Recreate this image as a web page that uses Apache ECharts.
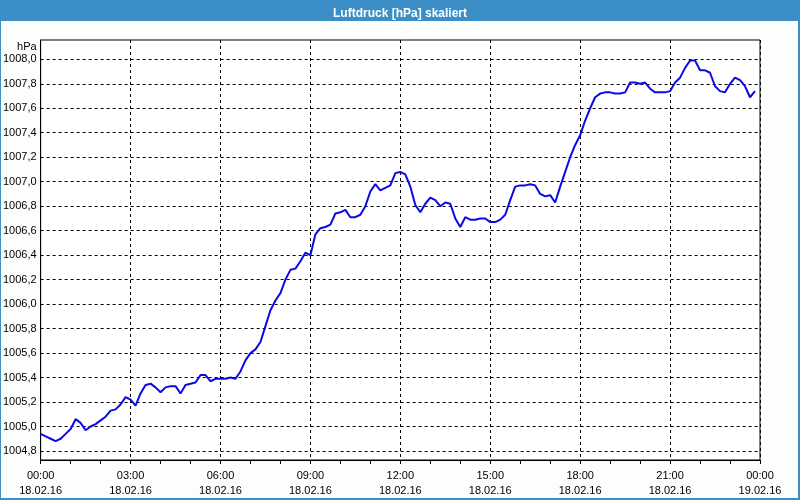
<!DOCTYPE html>
<html>
<head>
<meta charset="utf-8">
<script src="https://cdn.jsdelivr.net/npm/echarts@6/dist/echarts.min.js"></script>
<style>
html,body{margin:0;padding:0;background:#fcfefd;}
#chart{width:800px;height:500px;}
</style>
</head>
<body>
<div id="chart"></div>
<script>
// Air pressure readings every 10 minutes, 18.02.16 00:00 – 23:50
const startMinute = 0;
const stepMinutes = 10;
const pressure00to06 = [1004.94,1004.92,1004.90,1004.88,1004.90,1004.94,1004.98,1005.06,1005.03,1004.97,1005.00,1005.02,1005.05,1005.08,1005.13,1005.14,1005.18,1005.24,1005.22,1005.17,1005.27,1005.34,1005.35,1005.32,1005.28,1005.32,1005.33,1005.33,1005.27,1005.34,1005.35,1005.36,1005.42,1005.42,1005.37,1005.39];
const pressure06to12 = [1005.39,1005.39,1005.40,1005.39,1005.45,1005.54,1005.60,1005.63,1005.69,1005.82,1005.95,1006.03,1006.09,1006.20,1006.28,1006.29,1006.35,1006.42,1006.40,1006.57,1006.62,1006.63,1006.65,1006.74,1006.75,1006.77,1006.71,1006.71,1006.73,1006.80,1006.92,1006.98,1006.93,1006.95,1006.97,1007.07];
const pressure12to18 = [1007.08,1007.06,1006.96,1006.81,1006.75,1006.82,1006.87,1006.85,1006.80,1006.83,1006.82,1006.70,1006.63,1006.71,1006.69,1006.69,1006.70,1006.70,1006.67,1006.67,1006.69,1006.73,1006.85,1006.96,1006.97,1006.97,1006.98,1006.97,1006.90,1006.88,1006.89,1006.83,1006.96,1007.08,1007.20,1007.30];
const pressure18to24 = [1007.38,1007.50,1007.60,1007.69,1007.72,1007.73,1007.73,1007.72,1007.72,1007.73,1007.81,1007.81,1007.80,1007.81,1007.76,1007.73,1007.73,1007.73,1007.74,1007.81,1007.85,1007.93,1007.99,1007.99,1007.91,1007.91,1007.89,1007.78,1007.74,1007.73,1007.80,1007.85,1007.83,1007.78,1007.69,1007.74];
const yTickValues = [1004.8,1005.0,1005.2,1005.4,1005.6,1005.8,1006.0,1006.2,1006.4,1006.6,1006.8,1007.0,1007.2,1007.4,1007.6,1007.8,1008.0];
const xTickTimes = ['00:00','03:00','06:00','09:00','12:00','15:00','18:00','21:00','00:00'];
const xTickDates = ['18.02.16','18.02.16','18.02.16','18.02.16','18.02.16','18.02.16','18.02.16','18.02.16','19.02.16'];
const titleText = 'Luftdruck [hPa] skaliert';
const unitName = 'hPa';

const pressure = [].concat(pressure00to06, pressure06to12, pressure12to18, pressure18to24);
const seriesData = pressure.map((v, i) => [startMinute + i * stepMinutes, v]);

const chart = echarts.init(document.getElementById('chart'), null, {renderer: 'canvas'});
const font = 'Liberation Sans';
chart.setOption({
  animation: false,
  backgroundColor: '#fcfefd',
  textStyle: {fontFamily: font},
  title: {
    text: titleText,
    left: 'center',
    top: 3,
    z: 10,
    textStyle: {color: '#ffffff', fontSize: 12, fontWeight: 'bold', fontFamily: font}
  },
  graphic: [
    {type: 'rect', z: 0, silent: true, shape: {x: 0, y: 0, width: 800, height: 21}, style: {fill: '#3c8fc6'}},
    {type: 'rect', z: 0, silent: true, shape: {x: 0, y: 0, width: 1, height: 500}, style: {fill: '#3c8fc6'}},
    {type: 'rect', z: 0, silent: true, shape: {x: 798, y: 0, width: 2, height: 500}, style: {fill: '#3c8fc6'}},
    {type: 'rect', z: 0, silent: true, shape: {x: 0, y: 498, width: 800, height: 2}, style: {fill: '#3c8fc6'}}
  ],
  grid: {
    left: 40, right: 40, top: 40, bottom: 40,
    show: true, backgroundColor: '#ffffff', borderColor: '#000000', borderWidth: 1
  },
  xAxis: {
    type: 'value',
    min: 0, max: 1440, interval: 180,
    axisLine: {show: true, lineStyle: {color: '#000000', width: 1}},
    axisTick: {show: true, length: 4, lineStyle: {color: '#000000'}},
    minorTick: {show: true, splitNumber: 3, length: 4, lineStyle: {color: '#000000'}},
    splitLine: {show: true, lineStyle: {color: '#000000', type: [3, 3], width: 1}},
    axisLabel: {
      color: '#000000', fontSize: 11, fontFamily: font, margin: 8, lineHeight: 15,
      formatter: (v) => { const k = Math.round(v / 180); return xTickTimes[k] + '\n' + xTickDates[k]; }
    }
  },
  yAxis: {
    type: 'value',
    min: 1004.7265, max: 1008.1577,
    name: unitName,
    nameLocation: 'end',
    nameGap: -7,
    nameTextStyle: {color: '#000000', fontSize: 11, fontFamily: font, align: 'right', verticalAlign: 'middle', padding: [0, 4, 0, 0]},
    axisLine: {show: true, lineStyle: {color: '#000000', width: 1}},
    axisTick: {show: false, customValues: yTickValues},
    splitLine: {show: true, lineStyle: {color: '#000000', type: [3, 3], width: 1}},
    axisLabel: {
      customValues: yTickValues,
      color: '#000000', fontSize: 11, fontFamily: font, margin: 4,
      formatter: (v) => v.toFixed(1).replace('.', ',')
    }
  },
  series: [{
    type: 'line',
    data: seriesData,
    showSymbol: false,
    symbol: 'none',
    smooth: false,
    lineStyle: {color: '#0a0ae6', width: 2},
    z: 5
  }]
});
</script>
</body>
</html>
